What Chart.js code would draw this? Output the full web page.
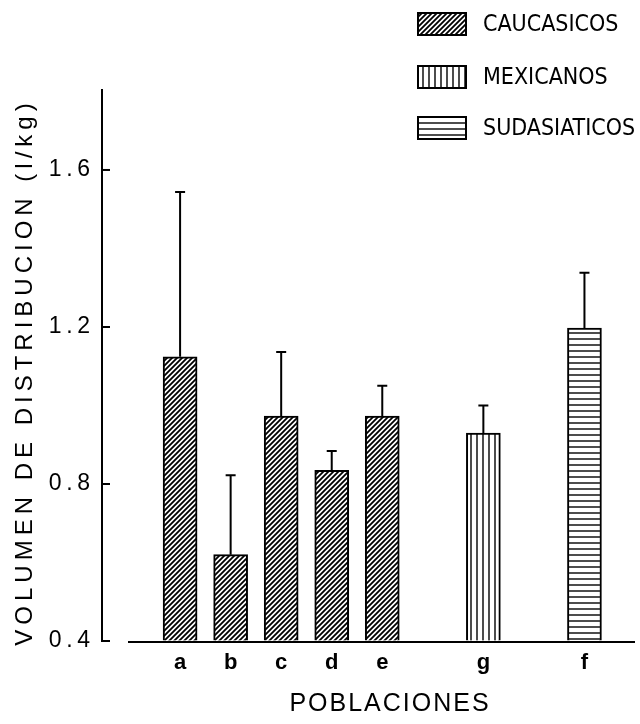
<!DOCTYPE html>
<html>
<head>
<meta charset="utf-8">
<script src="https://cdn.jsdelivr.net/npm/chart.js@4.4.1/dist/chart.umd.min.js"></script>
<style>
  html, body { margin: 0; padding: 0; background: #fff; }
  #wrap { width: 640px; height: 724px; }
</style>
</head>
<body>
<div id="wrap"><canvas id="volChart" width="640" height="724"></canvas></div>
<script>
// ========= Data =========
const cauLabels = ["a", "b", "c", "d", "e"];
const cauPos = [1, 2, 3, 4, 5];
const cauMean = [1.124, 0.62, 0.973, 0.835, 0.973];
const cauUpper = [1.544, 0.822, 1.136, 0.884, 1.05];

const mexLabels = ["g"];
const mexPos = [7];
const mexMean = [0.93];
const mexUpper = [1.0];

const sudLabels = ["f"];
const sudPos = [9];
const sudMean = [1.197];
const sudUpper = [1.338];

const yTicks = [0.4, 0.8, 1.2, 1.6];
const seriesNames = ["CAUCASICOS", "MEXICANOS", "SUDASIATICOS"];

const allPos = cauPos.concat(mexPos, sudPos);
const allLabels = cauLabels.concat(mexLabels, sudLabels);

// ========= Helpers =========
function makePattern(kind) {
    const c = document.createElement("canvas");
    const n = kind === "diag" ? 5 : 6;
    c.width = n; c.height = n;
    const g = c.getContext("2d");
    g.fillStyle = "#fff";
    g.fillRect(0, 0, n, n);
    g.strokeStyle = "#000";
    g.lineWidth = kind === "diag" ? 1.8 : 1.4;
    g.beginPath();
    if (kind === "diag") {
        g.moveTo(-1, n + 1); g.lineTo(n + 1, -1);
        g.moveTo(-1, 1); g.lineTo(1, -1);
        g.moveTo(n - 1, n + 1); g.lineTo(n + 1, n - 1);
    } else if (kind === "vert") {
        g.moveTo(n / 2, 0); g.lineTo(n / 2, n);
    } else {
        g.moveTo(0, n / 2); g.lineTo(n, n / 2);
    }
    g.stroke();
    return g.createPattern(c, "repeat");
}

const ctx = document.getElementById("volChart").getContext("2d");
const patterns = [makePattern("diag"), makePattern("vert"), makePattern("horiz")];

function points(pos, vals) {
    return pos.map((x, i) => ({ x: x, y: vals[i] }));
}

// ========= Plugins =========
const upperBySet = [cauUpper, mexUpper, sudUpper];

const errorBars = {
    id: "errorBars",
    afterDatasetsDraw(chart) {
        const c = chart.ctx;
        const y = chart.scales.y;
        c.save();
        c.strokeStyle = "#000";
        c.lineWidth = 2;
        chart.data.datasets.forEach((ds, di) => {
            chart.getDatasetMeta(di).data.forEach((bar, i) => {
                const top = y.getPixelForValue(upperBySet[di][i]);
                c.beginPath();
                c.moveTo(bar.x, bar.y);
                c.lineTo(bar.x, top);
                c.moveTo(bar.x - 5, top);
                c.lineTo(bar.x + 5, top);
                c.stroke();
            });
        });
        c.restore();
    }
};

const decor = {
    id: "decor",
    afterDraw(chart) {
        const c = chart.ctx;
        const a = chart.chartArea;
        const y = chart.scales.y;
        c.save();
        c.strokeStyle = "#000";
        c.lineWidth = 2;
        // inward tick marks
        yTicks.forEach(v => {
            const py = y.getPixelForValue(v);
            c.beginPath();
            c.moveTo(a.left, py);
            c.lineTo(a.left + 8, py);
            c.stroke();
        });
        // baseline
        c.beginPath();
        c.moveTo(a.left + 26, a.bottom + 1);
        c.lineTo(a.right, a.bottom + 1);
        c.stroke();

        // axis titles
        c.fillStyle = "#000";
        c.textAlign = "center";
        c.textBaseline = "middle";
        c.font = "24px 'Liberation Sans', Arial, sans-serif";
        c.letterSpacing = "5px";
        c.save();
        c.translate(25, 372);
        c.rotate(-Math.PI / 2);
        c.fillText("VOLUMEN DE DISTRIBUCION (l/kg)", 0, 0);
        c.restore();
        c.font = "25px 'Liberation Sans', Arial, sans-serif";
        c.letterSpacing = "2px";
        c.fillText("POBLACIONES", 390, 704);

        // legend
        c.letterSpacing = "0px";
        c.textAlign = "left";
        c.font = "23px 'Liberation Sans Narrow', 'DejaVu Sans Condensed', sans-serif";
        const rows = [24, 77, 128];
        chart.data.datasets.forEach((ds, di) => {
            const cy = rows[di];
            c.fillStyle = ds.backgroundColor;
            c.fillRect(418, cy - 11, 48, 22);
            c.lineWidth = 2;
            c.strokeRect(418, cy - 11, 48, 22);
            c.fillStyle = "#000";
            c.fillText(ds.label, 483, cy + 1);
        });
        c.restore();
    }
};

// ========= Chart =========
const barStyle = {
    borderColor: "#000",
    borderWidth: 2,
    borderSkipped: "start",
    barThickness: 34,
    base: 0.4,
    grouped: false
};

new Chart(ctx, {
    type: "bar",
    data: {
        datasets: [
            Object.assign({ label: seriesNames[0], data: points(cauPos, cauMean), backgroundColor: patterns[0] }, barStyle),
            Object.assign({ label: seriesNames[1], data: points(mexPos, mexMean), backgroundColor: patterns[1] }, barStyle),
            Object.assign({ label: seriesNames[2], data: points(sudPos, sudMean), backgroundColor: patterns[2] }, barStyle)
        ]
    },
    options: {
        responsive: false,
        animation: false,
        events: [],
        layout: { padding: { top: 89.5, right: 5, bottom: 0, left: 0 } },
        plugins: {
            legend: { display: false },
            tooltip: { enabled: false }
        },
        scales: {
            x: {
                type: "linear",
                min: -0.545,
                max: 10.0,
                offset: false,
                afterBuildTicks: s => { s.ticks = allPos.map(v => ({ value: v })); },
                afterFit: s => { s.height = 83; },
                ticks: {
                    color: "#000",
                    font: { family: "'Liberation Sans', Arial, sans-serif", size: 22, weight: "bold" },
                    padding: 9,
                    autoSkip: false,
                    maxRotation: 0,
                    callback: v => allLabels[allPos.indexOf(v)]
                },
                grid: { display: false, drawTicks: false },
                border: { display: false }
            },
            y: {
                min: 0.4,
                max: 1.805,
                afterBuildTicks: s => { s.ticks = yTicks.map(v => ({ value: v })); },
                afterFit: s => { s.width = 102; },
                ticks: {
                    color: "#000",
                    font: { family: "'Liberation Sans', Arial, sans-serif", size: 23 },
                    padding: 12,
                    callback: v => v.toFixed(1).split("").join("\u2009")
                },
                grid: { drawOnChartArea: false, drawTicks: false },
                border: { display: true, color: "#000", width: 2 }
            }
        }
    },
    plugins: [errorBars, decor]
});
</script>
</body>
</html>
